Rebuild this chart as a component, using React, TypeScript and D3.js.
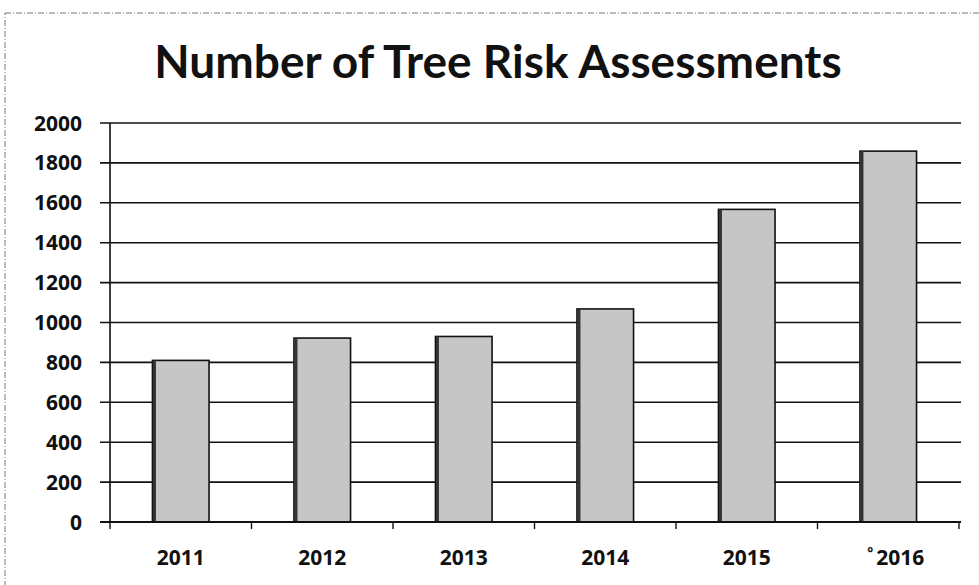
import React, { useEffect, useRef } from 'react';
import * as d3 from 'd3';

const years = ['2011', '2012', '2013', '2014', '2015', '2016'];
const assessments = [810, 922, 930, 1068, 1567, 1859];
const yTicks = [0, 200, 400, 600, 800, 1000, 1200, 1400, 1600, 1800, 2000];
const markedYear = '2016';

const App: React.FC = () => {
  const svgRef = useRef<SVGSVGElement | null>(null);

  useEffect(() => {
    if (!svgRef.current) return;
    const svg = d3.select(svgRef.current);
    svg.selectAll('*').remove();

    const width = 979;
    const height = 585;
    const margin = { top: 123, right: 20, bottom: 63, left: 110 };
    const titleFont = 'Lato, "Open Sans", sans-serif';
    const labelFont = '"Open Sans", Lato, sans-serif';

    svg.append('rect').attr('width', width).attr('height', height).attr('fill', '#fff');

    // scanned frame
    svg.append('rect')
      .attr('x', 5).attr('y', 13)
      .attr('width', width + 10).attr('height', height)
      .attr('fill', 'none')
      .attr('stroke', '#777')
      .attr('stroke-width', 1)
      .attr('stroke-dasharray', '6,2,1,2');

    const x = d3.scaleBand<string>()
      .domain(years)
      .range([margin.left, width - margin.right])
      .paddingInner(0.6)
      .paddingOuter(0.3);

    const y = d3.scaleLinear()
      .domain([0, 2000])
      .range([height - margin.bottom, margin.top]);

    // Title
    svg.append('text')
      .attr('x', 498)
      .attr('y', 78)
      .attr('text-anchor', 'middle')
      .attr('font-family', titleFont)
      .attr('font-weight', 'bold')
      .attr('font-size', '46px')
      .attr('fill', '#111')
      .text('Number of Tree Risk Assessments');

    // gridlines + y ticks
    svg.append('g')
      .selectAll('line')
      .data(yTicks)
      .join('line')
        .attr('x1', margin.left - 10)
        .attr('x2', width - margin.right + 2)
        .attr('y1', d => y(d))
        .attr('y2', d => y(d))
        .attr('stroke', '#111')
        .attr('stroke-width', 1.6);

    svg.append('g')
      .selectAll('text')
      .data(yTicks)
      .join('text')
        .attr('x', 82)
        .attr('y', d => y(d))
        .attr('dy', '0.36em')
        .attr('text-anchor', 'end')
        .attr('font-family', labelFont)
        .attr('font-weight', 'bold')
        .attr('font-size', '21px')
        .attr('fill', '#111')
        .text(d => d);

    // y axis line
    svg.append('line')
      .attr('x1', margin.left).attr('x2', margin.left)
      .attr('y1', y(2000)).attr('y2', y(0))
      .attr('stroke', '#111').attr('stroke-width', 1.6);

    // bars
    svg.append('g')
      .selectAll('rect')
      .data(assessments)
      .join('rect')
        .attr('x', (d, i) => x(years[i]) as number)
        .attr('y', d => y(d))
        .attr('width', x.bandwidth())
        .attr('height', d => y(0) - y(d))
        .attr('fill', '#c6c6c6')
        .attr('stroke', '#111')
        .attr('stroke-width', 1.6);

    svg.append('g')
      .selectAll('line')
      .data(assessments)
      .join('line')
        .attr('x1', (d, i) => (x(years[i]) as number) + 2)
        .attr('x2', (d, i) => (x(years[i]) as number) + 2)
        .attr('y1', d => y(d))
        .attr('y2', y(0))
        .attr('stroke', '#333')
        .attr('stroke-width', 3);

    // x axis
    const step = x.step();
    const boundaries = d3.range(years.length + 1).map(i => margin.left + i * step);
    svg.append('line')
      .attr('x1', margin.left - 10).attr('x2', width - margin.right + 2)
      .attr('y1', y(0)).attr('y2', y(0))
      .attr('stroke', '#111').attr('stroke-width', 1.8);
    svg.append('g')
      .selectAll('line')
      .data(boundaries)
      .join('line')
        .attr('x1', d => d).attr('x2', d => d)
        .attr('y1', y(0)).attr('y2', y(0) + 7)
        .attr('stroke', '#111').attr('stroke-width', 1.4);

    const labelX = (d: string) =>
      (x(d) as number) + x.bandwidth() / 2 + (d === markedYear ? 12 : 0);

    svg.append('g')
      .selectAll('text')
      .data(years)
      .join('text')
        .attr('x', labelX)
        .attr('y', 565)
        .attr('text-anchor', 'middle')
        .attr('font-family', labelFont)
        .attr('font-weight', 'bold')
        .attr('font-size', '21px')
        .attr('fill', '#111')
        .text(d => d);

    // small footnote mark before the last year
    svg.append('text')
      .attr('x', labelX(markedYear) - 30)
      .attr('y', 558)
      .attr('text-anchor', 'middle')
      .attr('font-family', labelFont)
      .attr('font-weight', 'bold')
      .attr('font-size', '14px')
      .attr('fill', '#111')
      .text('\u00b0');
  }, []);

  return (
    <svg
      ref={svgRef}
      width={979}
      height={585}
      style={{ position: 'absolute', top: 0, left: 0 }}
    />
  );
};

export default App;
